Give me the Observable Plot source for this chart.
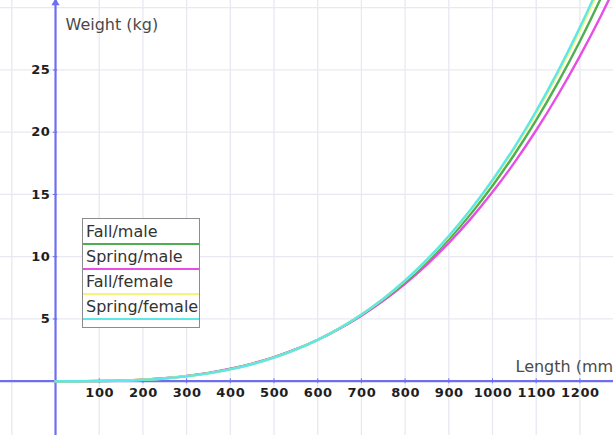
<!DOCTYPE html>
<html>
<head>
<meta charset="utf-8">
<script src="https://cdn.jsdelivr.net/npm/d3@7"></script>
<script src="https://cdn.jsdelivr.net/npm/@observablehq/plot@0.6"></script>
<style>
  body { margin: 0; background: #fff; }
  #wrap { position: relative; width: 613px; height: 435px; overflow: hidden; font-family: "DejaVu Sans", sans-serif; }
  #wrap svg { overflow: hidden; display: block; }
  #legend { position: absolute; left: 82px; top: 218px; width: 116px; border: 1px solid #8c8c8c; background: #fff; padding: 2.5px 0 4px 0; box-sizing: content-box; }
  .entry { height: 25.3px; }
  .entry .lab { display: block; line-height: 20px; font-size: 16px; color: #333; padding-left: 3px; white-space: nowrap; }
  .entry .sw { height: 2px; margin-top: 1px; }
</style>
</head>
<body>
<div id="wrap"></div>
<script>
// ---- data ----
const lengths = [0,50,100,150,200,250,300,350,400,450,500,550,600,650,700,750,800,850,900,950,1000,1050,1100,1150,1200,1250,1300];
const fallMale = [0,0.00176,0.0144,0.0494,0.118,0.233,0.406,0.648,0.971,1.389,1.913,2.555,3.327,4.243,5.315,6.553,7.972,9.583,11.40,13.43,15.70,18.21,20.97,24.00,27.31,30.92,34.82];
const springMale = [0,0.00207,0.0162,0.0542,0.127,0.247,0.425,0.671,0.998,1.416,1.937,2.571,3.330,4.223,5.265,6.461,7.827,9.372,11.11,13.04,15.19,17.56,20.16,23.01,26.11,29.48,33.12];
const fallFemale = [0,0.00160,0.0134,0.0467,0.113,0.224,0.394,0.633,0.954,1.371,1.897,2.545,3.326,4.256,5.350,6.616,8.072,9.731,11.61,13.71,16.06,18.66,21.54,24.71,28.17,31.95,36.05];
const springFemale = [0,0.00152,0.0130,0.0456,0.111,0.221,0.389,0.627,0.948,1.365,1.892,2.541,3.326,4.260,5.360,6.634,8.102,9.773,11.67,13.79,16.16,18.79,21.70,24.91,28.42,32.25,36.41];

const seriesNames = ["Fall/male", "Spring/male", "Fall/female", "Spring/female"];
const seriesColors = ["#4fae4f", "#e64ee6", "#f4f47a", "#5fe6e6"];
const seriesValues = [fallMale, springMale, fallFemale, springFemale];
const drawOrder = [1, 0, 2, 3];

const xTicks = [100,200,300,400,500,600,700,800,900,1000,1100,1200];
const yTicks = [5,10,15,20,25];
const xGrid = [-100,100,200,300,400,500,600,700,800,900,1000,1100,1200];
const yGrid = [5,10,15,20,25,30];
const xTitle = "Length (mm)";
const yTitle = "Weight (kg)";

// ---- build table ----
const rows = [];
drawOrder.forEach(si => {
  lengths.forEach((L, i) => rows.push({series: seriesNames[si], L, W: seriesValues[si][i]}));
});

const axisColor = "#6e6ef0";
const gridColor = "#e8e8f1";
const xDomain = [-125.9, 1276.9];
const yDomain = [-4.36, 30.58];

const chart = Plot.plot({
  width: 613,
  height: 435,
  margin: 0,
  x: {domain: xDomain, axis: null},
  y: {domain: yDomain, axis: null},
  color: {domain: seriesNames, range: seriesColors},
  style: {fontFamily: "DejaVu Sans, sans-serif", background: "#fff"},
  marks: [
    Plot.ruleX(xGrid, {stroke: gridColor, strokeWidth: 1.3}),
    Plot.ruleY(yGrid, {stroke: gridColor, strokeWidth: 1.3}),
    Plot.ruleX([0], {stroke: axisColor, strokeWidth: 2.2}),
    Plot.ruleY([0], {stroke: axisColor, strokeWidth: 2.2}),
    Plot.ruleX(xTicks, {y1: -0.2, y2: 0.2, stroke: axisColor, strokeWidth: 1}),
    Plot.ruleY(yTicks, {x1: -5, x2: 5, stroke: axisColor, strokeWidth: 1}),
    Plot.dot([yDomain[1]], {x: () => 0, y: d => d - 0.2, symbol: "triangle", r: 3, fill: axisColor, stroke: "none"}),
    Plot.line(rows, {x: "L", y: "W", z: "series", stroke: "series", strokeWidth: 2.4, curve: "catmull-rom", clip: true}),
    Plot.text(xTicks, {x: d => d, y: () => 0, text: d => String(d), dx: 0.5, dy: 12, fontWeight: "bold", fontSize: 13, fill: "#1e1e1e"}),
    Plot.text(yTicks, {x: () => 0, y: d => d, text: d => String(d), dx: -5, textAnchor: "end", fontWeight: "bold", fontSize: 13, fill: "#1e1e1e"}),
    Plot.text([yTitle], {x: () => 0, frameAnchor: "top", text: d => d, textAnchor: "start", dx: 10, dy: 18, fontSize: 16, fill: "#4a4a4a"}),
    Plot.text([xTitle], {y: () => 0, frameAnchor: "right", text: d => d, textAnchor: "start", dx: -98, dy: -14, fontSize: 16, fill: "#4a4a4a"})
  ]
});

// slightly wider spacing for the bold numeric tick labels
d3.select(chart).selectAll("text").filter(function() { return /^\d+$/.test(this.textContent); })
  .style("letter-spacing", "0.6px");

const wrap = document.getElementById("wrap");
wrap.appendChild(chart);

// legend overlay
const legend = document.createElement("div");
legend.id = "legend";
seriesNames.forEach((name, i) => {
  const e = document.createElement("div");
  e.className = "entry";
  const t = document.createElement("span");
  t.className = "lab";
  t.textContent = name;
  const s = document.createElement("div");
  s.className = "sw";
  s.style.background = seriesColors[i];
  e.appendChild(t);
  e.appendChild(s);
  legend.appendChild(e);
});
wrap.appendChild(legend);
</script>
</body>
</html>
